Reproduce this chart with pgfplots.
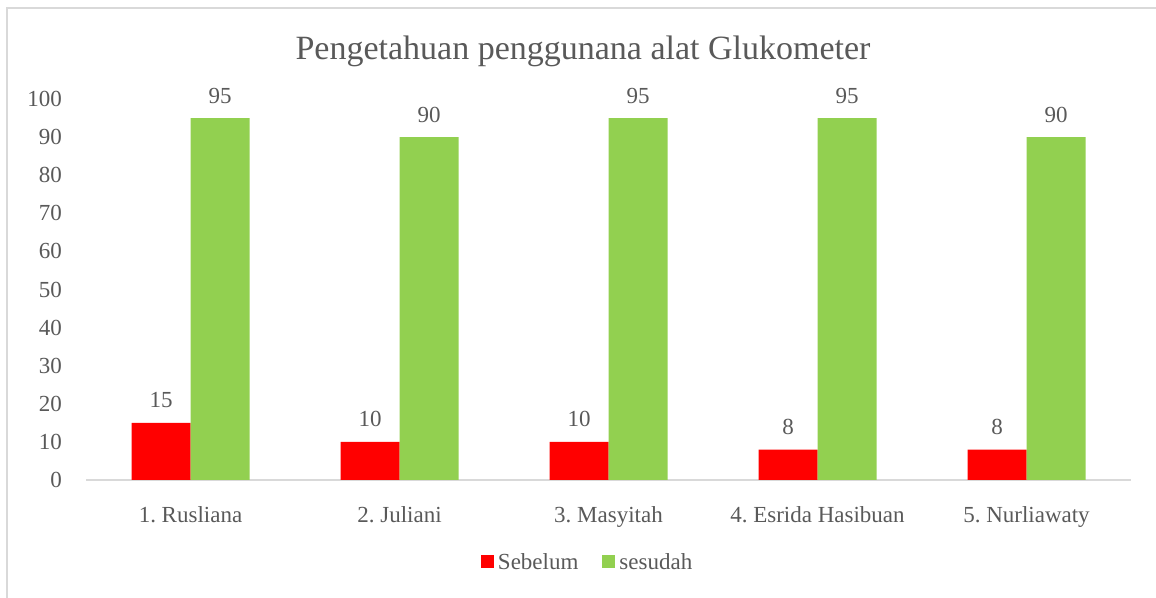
\documentclass[border=0pt]{standalone}
\usepackage{pgfplots}
\pgfplotsset{compat=1.18}
\usepackage{fontspec}
\setmainfont{Liberation Serif}
\definecolor{txt}{HTML}{595959}
\definecolor{gr}{HTML}{92D050}
\definecolor{ax}{HTML}{D9D9D9}
\begin{document}
\frenchspacing
\begin{tikzpicture}[x=1pt,y=1pt]
\useasboundingbox (0,0) rectangle (1156,597);
\draw[ax, line width=1.2pt] (7,-10) -- (7,589) -- (1170,589);
\node[anchor=base, text=txt, font=\fontsize{34}{40}\selectfont, inner sep=0pt] at (583,537) {Pengetahuan penggunana alat Glukometer};
\begin{axis}[
  at={(86pt,117pt)}, anchor=south west,
  scale only axis, width=1045pt, height=381pt,
  ybar=0pt, bar width=59pt,
  xmin=-0.5, xmax=4.5, ymin=0, ymax=100,
  xtick=data,
  xticklabels={1. Rusliana, 2. Juliani, 3. Masyitah, 4. Esrida Hasibuan, 5. Nurliawaty},
  ytick={0,10,...,100},
  major tick length=0pt,
  axis y line*=left,
  y axis line style={draw=none},
  axis x line*=bottom,
  x axis line style={ax, line width=1.2pt, -},
  /pgf/number format/assume math mode=true,
  ticklabel style={text=txt, font=\fontsize{23}{27}\selectfont},
  yticklabel style={anchor=east, inner sep=0pt, xshift=-24pt},
  xticklabel style={anchor=base, inner sep=0pt, yshift=-42pt},
  nodes near coords,
  every node near coord/.append style={anchor=base, inner sep=0pt, yshift=15pt, text=txt, font=\fontsize{23}{27}\selectfont, /pgf/number format/assume math mode=true},
  legend style={at={(0.481,-0.215)}, anchor=center, draw=none, fill=none,
    font=\fontsize{23}{27}\selectfont, text=txt, legend columns=2,
    /tikz/every even column/.append style={column sep=20pt},
    /tikz/every node/.append style={inner xsep=4pt}},
  legend image code/.code={\fill[#1] (0pt,-6.5pt) rectangle (13pt,6.5pt);},
]
\addplot[fill=red, draw=none] coordinates {(0,15) (1,10) (2,10) (3,8) (4,8)};
\addplot[fill=gr, draw=none] coordinates {(0,95) (1,90) (2,95) (3,95) (4,90)};
\legend{Sebelum, sesudah}
\end{axis}
\end{tikzpicture}
\end{document}
